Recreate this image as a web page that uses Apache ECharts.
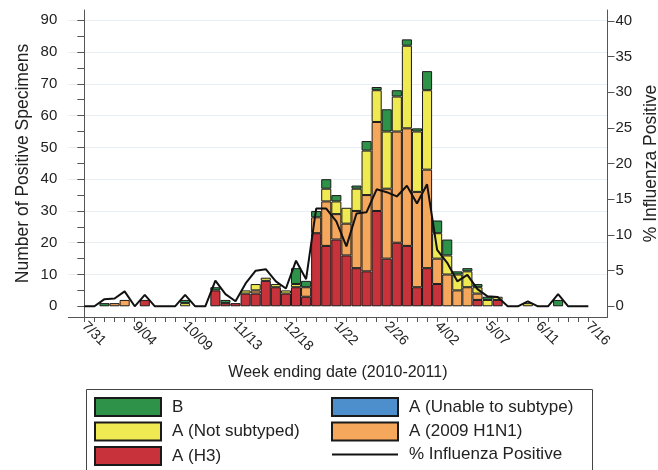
<!DOCTYPE html>
<html><head><meta charset="utf-8">
<script src="https://cdn.jsdelivr.net/npm/echarts@6/dist/echarts.min.js"></script>
<style>html,body{margin:0;padding:0;background:#fff}#c{width:658px;height:470px}</style>
</head><body><div id="c"></div>
<script>
// week index 0 = 7/31/2010 ... 50 = 7/16/2011
const weeks = [0,1,2,3,4,5,6,7,8,9,10,11,12,13,14,15,16,17,18,19,20,21,22,23,24,25,26,27,28,29,30,31,32,33,34,35,36,37,38,39,40,41,42,43,44,45,46,47,48,49,50];
const tickLabels = ['7/31','9/04','10/09','11/13','12/18','1/22','2/26','4/02','5/07','6/11','7/16'];
const labelWeeks = [0,5,10,15,20,25,30,35,40,45,50];

const aH3       = [0,0,0,0,0,0,2,0,0,0, 0,0,0,5,1,1,4,4,8,6, 4,6,3,23,19,21,16,12,11,30, 15,20,19,6,12,7,0,0,0,2, 0,2,0,0,0,0,0,0,0,0, 0];
const aH1N1     = [0,0,0,1,2,0,0,0,0,0, 0,0,0,0,0,0,0,1,0,0, 0,0,3,5,14,8,10,18,24,28, 22,35,37,30,31,8,10,5,6,2, 0,0,0,0,0,0,0,0,0,0, 0];
const aUnable   = [0,0,0,0,0,0,0,0,0,0, 0,0,0,0,0,0,0,0,0,0, 0,0,0,0,0,0,0,0,0,0, 0,0,0,0,0,0,0,0,0,0, 0,0,0,0,0,0,0,0,0,0, 0];
const aNotSub   = [0,0,0,0,0,0,0,0,0,0, 1,0,0,0,0,0,1,2,1,1, 1,1,0,0,4,4,5,7,14,10, 18,11,26,19,25,8,6,5,5,2, 2,1,0,0,1,0,0,0,0,0, 0];
const bVals     = [0,0,1,0,0,0,0,0,0,0, 1,0,0,1,1,0,0,0,0,0, 0,5,2,2,3,2,0,1,3,1, 7,2,2,1,6,4,5,1,1,1, 1,0,0,0,0,0,0,2,0,0, 0];
const pctPos    = [0,0,1.0,1.1,2.1,0,1.6,0,0,0, 1.6,0,0,3.6,1.7,0.7,3.2,5.0,5.2,3.5, 2.5,6.4,3.8,13.7,13.7,11.9,8.4,13.0,13.2,16.4, 16.0,15.4,16.9,14.4,17.1,7.9,6.1,3.5,4.4,2.4, 1.4,1.3,0,0,0.7,0,0,1.7,0,0, 0];

const leftTicks = [0,5,10,15,20,25,30,35,40,45,50,55,60,65,70,75,80,85,90];
const leftLabels = [0,10,20,30,40,50,60,70,80,90];
const gridVals = [10,20,30,40,50,60,70,80,90];
const rightTicks = [0,5,10,15,20,25,30,35,40];

const FONT = '"Liberation Sans", Arial, sans-serif';
const AX = '#555';

// value first so the stacked dimension is the y (value) dimension
function barData(arr){
  return weeks.map((w,k)=> arr[k] > 0
    ? {value:[arr[k], w]}
    : {value:[0, w], itemStyle:{borderWidth:0, opacity:0}});
}
function barSeries(name, arr, color){
  return {name, type:'bar', stack:'s', yAxisIndex:0, barWidth:10.08,
    encode:{x:1, y:0},
    itemStyle:{color, borderColor:'#1a1a1a', borderWidth:1},
    data: barData(arr)};
}

const legendCommon = {orient:'vertical', top:397, height:80, padding:0, itemWidth:66, itemHeight:18, itemGap:4.5,
  selectedMode:false, textStyle:{fontSize:17, color:'#222', fontFamily:FONT, padding:[0,0,0,6]}};

const chart = echarts.init(document.getElementById('c'), null, {renderer:'canvas'});
chart.setOption({
  animation:false,
  textStyle:{fontFamily:FONT},
  grid:{left:68.3, right:50.5, top:10, bottom:153, containLabel:false, outerBoundsMode:'none'},
  xAxis:{type:'value', min:-1.59, max:51.9,
    axisLine:{onZero:false, lineStyle:{color:AX, width:1}},
    axisTick:{show:true, length:5, lineStyle:{color:AX}, customValues:weeks},
    axisLabel:{customValues:labelWeeks, rotate:-45, fontSize:14, color:'#222', margin:7, fontFamily:FONT,
      formatter:v=>tickLabels[labelWeeks.indexOf(v)]},
    splitLine:{show:false},
    name:'Week ending date (2010-2011)', nameLocation:'middle', nameGap:48, nameMoveOverlap:false,
    nameTextStyle:{fontSize:16, color:'#222', fontFamily:FONT}},
  yAxis:[
    {type:'value', position:'left', min:-3.37, max:93.24,
      axisLine:{show:true, lineStyle:{color:AX}},
      axisTick:{show:true, length:7, lineStyle:{color:AX}, customValues:leftTicks},
      axisLabel:{customValues:leftLabels, fontSize:15, color:'#222', margin:11, fontFamily:FONT},
      splitLine:{show:false},
      name:'Number of Positive Specimens', nameLocation:'middle', nameGap:36.5, nameMoveOverlap:false,
      nameTextStyle:{fontSize:17.5, color:'#222', fontFamily:FONT}},
    {type:'value', position:'right', min:-1.50, max:41.54,
      axisLine:{show:true, lineStyle:{color:AX}},
      axisTick:{show:true, length:7, lineStyle:{color:AX}, customValues:rightTicks},
      axisLabel:{customValues:rightTicks, fontSize:15, color:'#222', margin:8, fontFamily:FONT},
      splitLine:{show:false},
      name:'% Influenza Positive', nameLocation:'middle', nameGap:35, nameMoveOverlap:false,
      nameTextStyle:{fontSize:17.5, color:'#222', fontFamily:FONT}},
    {type:'value', position:'left', min:-3.37, max:93.24,
      axisLine:{show:false}, axisLabel:{show:false},
      axisTick:{show:false, customValues:gridVals},
      splitLine:{show:true, lineStyle:{color:'#e8eef2', width:1}}}
  ],
  legend:[
    Object.assign({left:94, data:[{name:'B',icon:'rect'},{name:'A (Not subtyped)',icon:'rect'},{name:'A (H3)',icon:'rect'}]}, legendCommon),
    Object.assign({left:331, data:[{name:'A (Unable to subtype)',icon:'rect'},{name:'A (2009 H1N1)',icon:'rect'},
      {name:'% Influenza Positive', itemStyle:{opacity:0}, lineStyle:{color:'#111', width:2}}]}, legendCommon)
  ],
  graphic:[{type:'rect', shape:{x:86.5, y:389.5, width:506, height:100},
    style:{fill:'none', stroke:'#444', lineWidth:1}, silent:true}],
  series:[
    barSeries('A (H3)', aH3, '#c8323a'),
    barSeries('A (2009 H1N1)', aH1N1, '#f5a75c'),
    barSeries('A (Unable to subtype)', aUnable, '#4d8ecc'),
    barSeries('A (Not subtyped)', aNotSub, '#efe952'),
    barSeries('B', bVals, '#2e9248'),
    {name:'% Influenza Positive', type:'line', yAxisIndex:1, symbol:'none', z:5,
      lineStyle:{color:'#111', width:2}, itemStyle:{color:'#111'},
      data: weeks.map((w,k)=>[w, pctPos[k]])}
  ]
});
</script></body></html>
